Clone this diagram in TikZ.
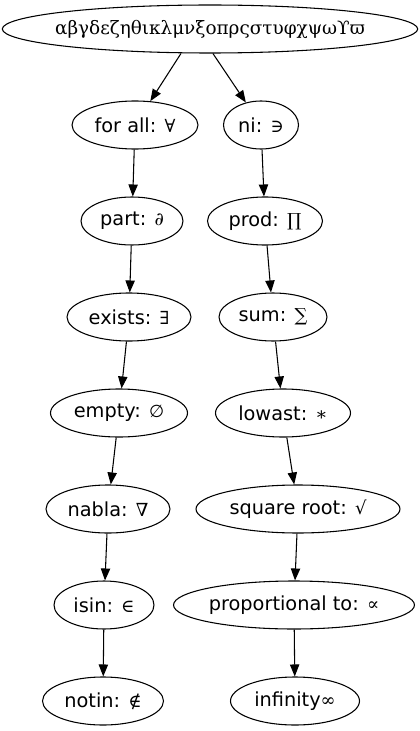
\documentclass[tikz,border=0pt]{standalone}
\usepackage{fontspec}
\setmainfont{DejaVu Sans}
\newfontfamily\serifsym{DejaVu Serif}
\usetikzlibrary{shapes.geometric,arrows.meta}
\newcommand{\smb}[1]{{\serifsym\fontsize{13.5}{13.5}\selectfont #1}}
\newcommand{\smbsans}[1]{{\fontsize{13}{13}\selectfont #1}}

\begin{document}
\begin{tikzpicture}[x=0.75pt,y=-0.75pt,>={Triangle[length=9pt,width=7pt]}]
  \tikzstyle{state}=[ellipse,draw,line width=0.8pt,minimum height=36pt,inner sep=0pt,font=\fontsize{14.5}{16}\selectfont]
  \tikzstyle{link}=[->,line width=0.8pt]

\useasboundingbox (0,0) rectangle (420,731);

\node[state,minimum width=307pt,inner xsep=-6pt] (greek) at (210,29) {\serifsym\fontsize{13.8}{16}\selectfont αβγδεζηθικλμνξοπρςστυφχψωϒϖ};

% name/x/y/width in px/label
\foreach \n/\x/\y/\w/\t in {forall/135/125/126/for all: \smb{∀},
  part/132/221/102/part: \smb{∂}, exists/129/317/124/exists: \smb{∃},
  empty/119/413/137/empty: \smbsans{∅}, nabla/108/509/124/nabla: \smb{∇},
  isin/104/605/100/isin: \smb{∈}, notin/103/701/121/notin: \smb{∉},
  ni/261/125/75/ni: \smb{∋}, prod/265/221/115/prod: \smb{∏},
  sum/273/317/108/sum: \smb{∑}, lowast/283/413/135/lowast: \smb{∗},
  sqroot/298/509/204/square root: \smb{√},
  propto/294/605/234/proportional to: \smb{∝},
  infty/295/701/129/infinity\smb{∞}} {
  \node[state,minimum width={0.75pt*\w}] (\n) at (\x,\y) {\t};
}

\draw[link] ([xshift=-21.8pt]greek.south) -- (forall);
\draw[link] ([xshift=2.2pt]greek.south) -- (ni);

\foreach \a/\b in {forall/part, part/exists, exists/empty, empty/nabla,
  nabla/isin, isin/notin, ni/prod, prod/sum, sum/lowast, lowast/sqroot,
  sqroot/propto, propto/infty} {
  \draw[link] (\a) -- (\b);
}

\end{tikzpicture}
\end{document}
